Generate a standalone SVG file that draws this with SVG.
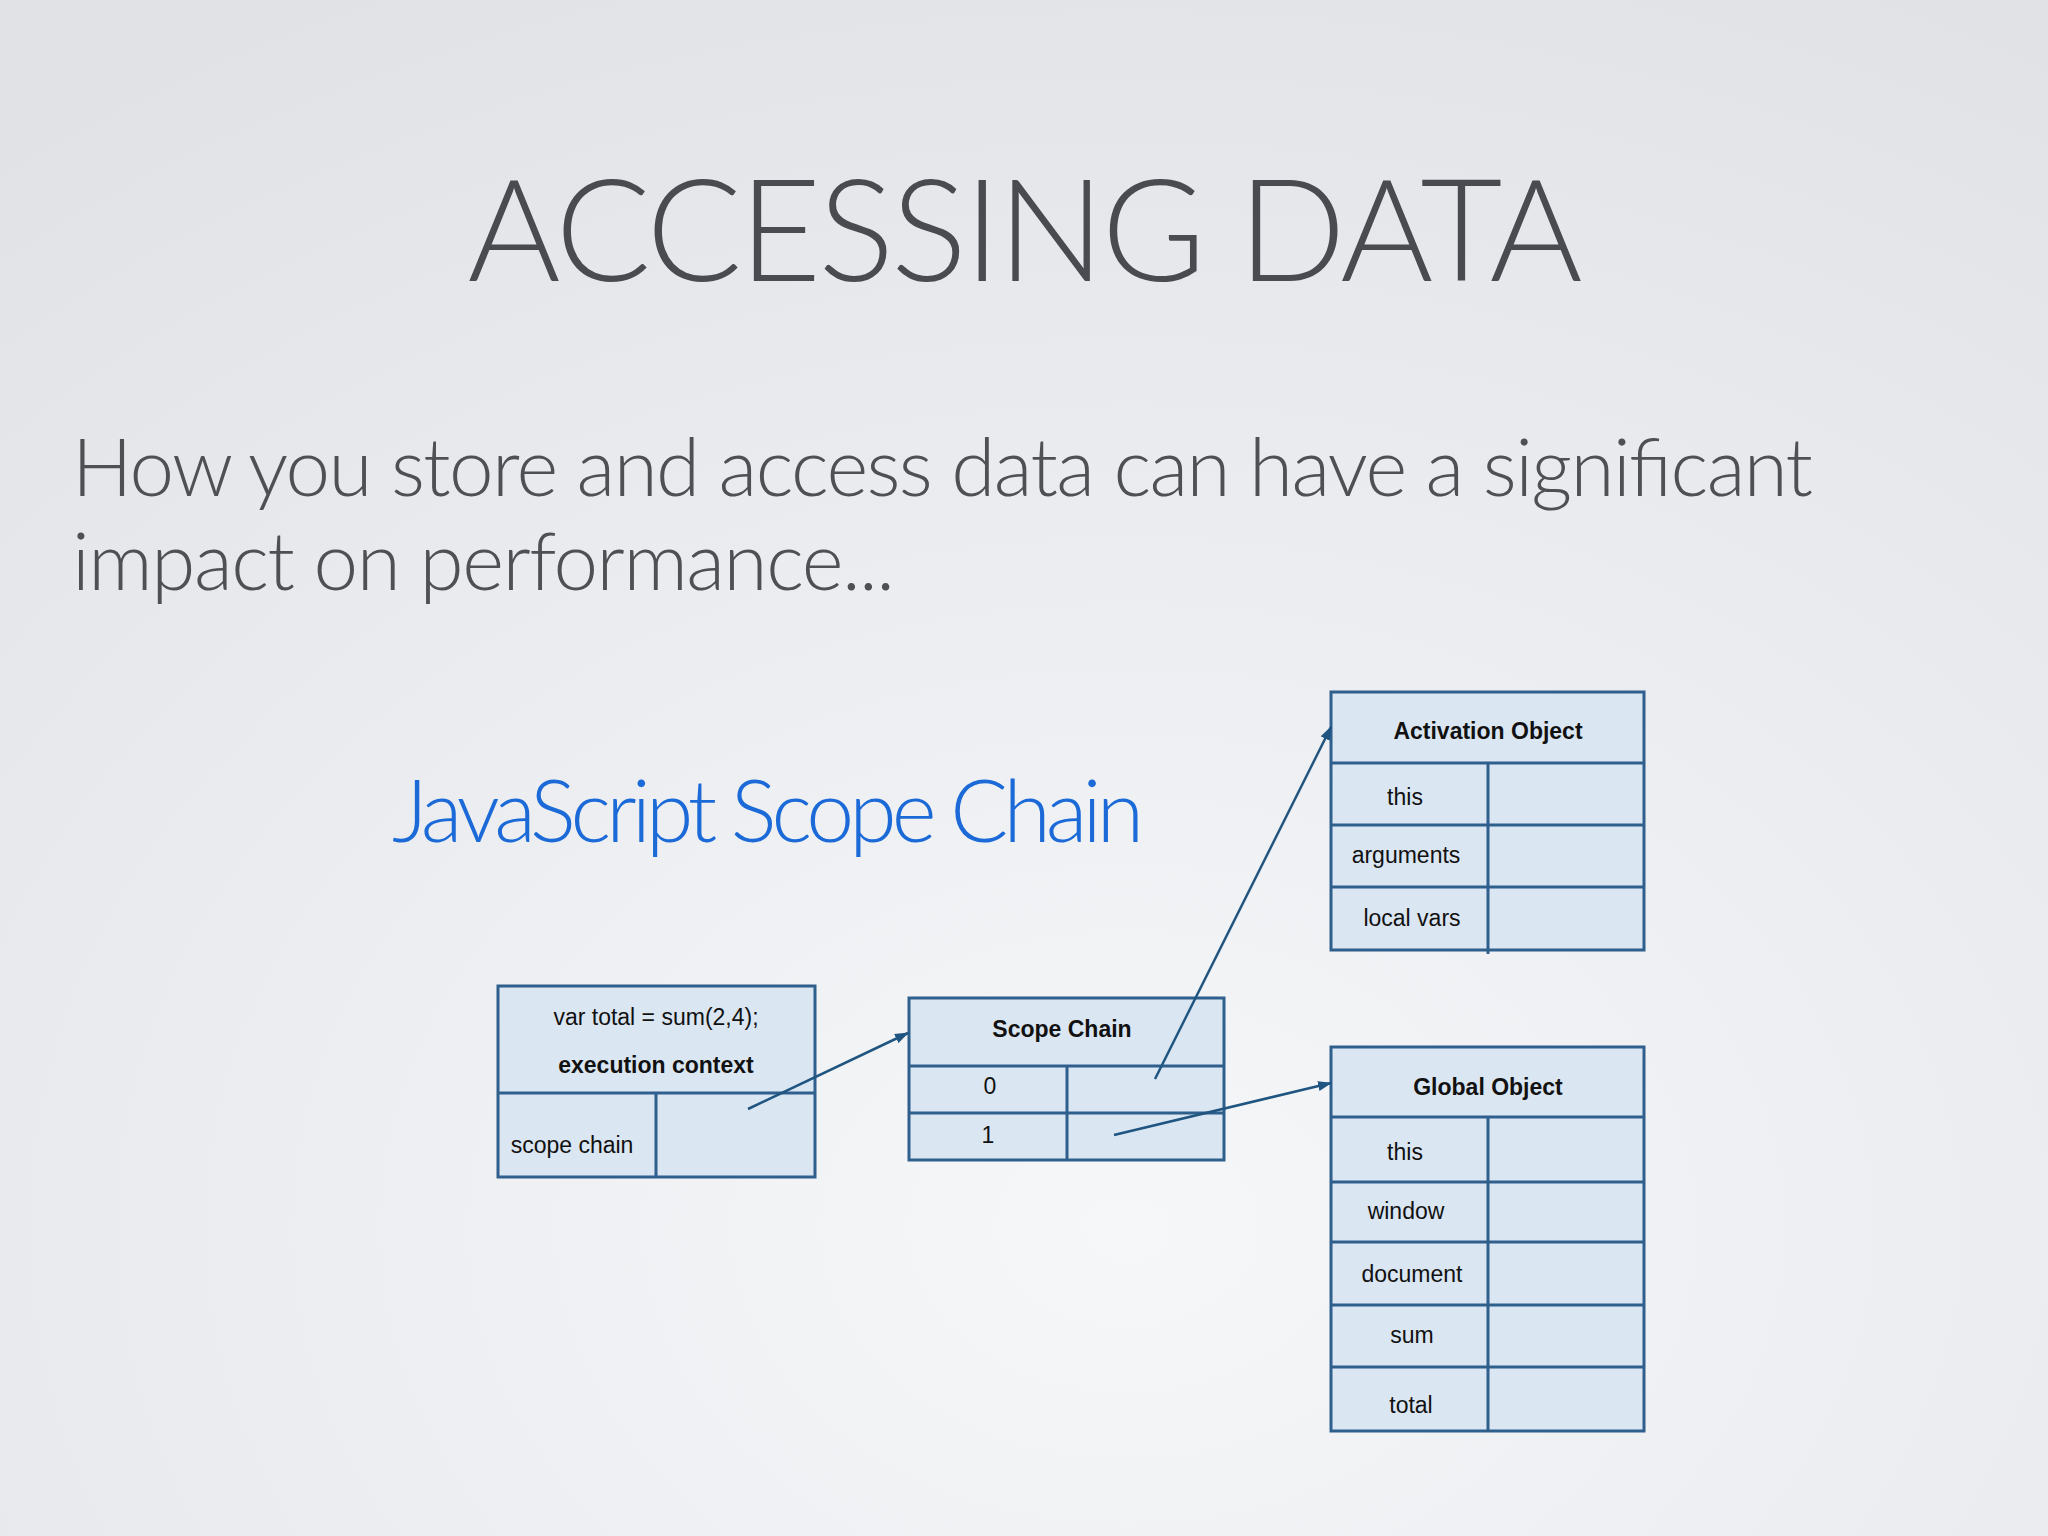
<svg xmlns="http://www.w3.org/2000/svg" width="2048" height="1536" viewBox="0 0 2048 1536">
<defs>
<radialGradient id="bg" cx="0.55" cy="0.8" r="0.9">
<stop offset="0" stop-color="#f6f7f9"/><stop offset="1" stop-color="#e0e2e6"/>
</radialGradient>
<marker id="ah" markerWidth="14" markerHeight="10" refX="13" refY="5" orient="auto" markerUnits="userSpaceOnUse"><path d="M0,0 L14,5 L0,10 z" fill="#1f5580"/></marker>
</defs>
<style>
.box{fill:#dae6f2;stroke:#2f5f8c;stroke-width:3}
.ln{stroke:#2f5f8c;stroke-width:3}
.t{font-family:"Liberation Sans",Arial,sans-serif;font-size:23px;fill:#111;text-anchor:middle}
.b{font-weight:bold}
.c{stroke:#1f5580;stroke-width:2.5;fill:none;marker-end:url(#ah)}
</style>
<rect width="2048" height="1536" fill="url(#bg)"/>
<text x="1025" y="281" font-family="Lato,'Open Sans',sans-serif" font-weight="300" font-size="142" fill="#4a4b50" text-anchor="middle" textLength="1115">ACCESSING DATA</text>
<text font-family="Lato,'Open Sans',sans-serif" font-weight="300" font-size="80" fill="#4f5054">
<tspan x="72" y="496" textLength="1741">How you store and access data can have a significant</tspan>
<tspan x="72" y="590" textLength="823">impact on performance...</tspan>
</text>
<text x="392" y="842" font-family="Lato,'Open Sans',sans-serif" font-weight="300" font-size="86" fill="#1b6ad8" textLength="752">JavaScript Scope Chain</text>
<g id="exec">
<rect class="box" x="498" y="986" width="317" height="191"/>
<line class="ln" x1="498" y1="1093" x2="815" y2="1093"/>
<line class="ln" x1="656" y1="1093" x2="656" y2="1177"/>
<text class="t" x="656" y="1025">var total = sum(2,4);</text>
<text class="t b" x="656" y="1073">execution context</text>
<text class="t" x="572" y="1153">scope chain</text>
</g>
<g id="scope">
<rect class="box" x="909" y="998" width="315" height="162"/>
<line class="ln" x1="909" y1="1066" x2="1224" y2="1066"/>
<line class="ln" x1="909" y1="1113" x2="1224" y2="1113"/>
<line class="ln" x1="1067" y1="1066" x2="1067" y2="1160"/>
<text class="t b" x="1062" y="1037">Scope Chain</text>
<text class="t" x="990" y="1094">0</text>
<text class="t" x="988" y="1143">1</text>
</g>
<g id="activation">
<rect class="box" x="1331" y="692" width="313" height="258"/>
<line class="ln" x1="1331" y1="763" x2="1644" y2="763"/>
<line class="ln" x1="1331" y1="825" x2="1644" y2="825"/>
<line class="ln" x1="1331" y1="887" x2="1644" y2="887"/>
<line class="ln" x1="1488" y1="763" x2="1488" y2="954"/>
<text class="t b" x="1488" y="739">Activation Object</text>
<text class="t" x="1405" y="805">this</text>
<text class="t" x="1406" y="863">arguments</text>
<text class="t" x="1412" y="926">local vars</text>
</g>
<g id="global">
<rect class="box" x="1331" y="1047" width="313" height="384"/>
<line class="ln" x1="1331" y1="1117" x2="1644" y2="1117"/>
<line class="ln" x1="1331" y1="1182" x2="1644" y2="1182"/>
<line class="ln" x1="1331" y1="1242" x2="1644" y2="1242"/>
<line class="ln" x1="1331" y1="1305" x2="1644" y2="1305"/>
<line class="ln" x1="1331" y1="1367" x2="1644" y2="1367"/>
<line class="ln" x1="1488" y1="1117" x2="1488" y2="1431"/>
<text class="t b" x="1488" y="1095">Global Object</text>
<text class="t" x="1405" y="1160">this</text>
<text class="t" x="1406" y="1219">window</text>
<text class="t" x="1412" y="1282">document</text>
<text class="t" x="1412" y="1343">sum</text>
<text class="t" x="1411" y="1413">total</text>
</g>
<g id="connectors">
<line class="c" x1="748" y1="1109" x2="908" y2="1033"/>
<line class="c" x1="1155" y1="1079" x2="1331" y2="727"/>
<line class="c" x1="1114" y1="1135" x2="1331" y2="1083"/>
</g>
</svg>
